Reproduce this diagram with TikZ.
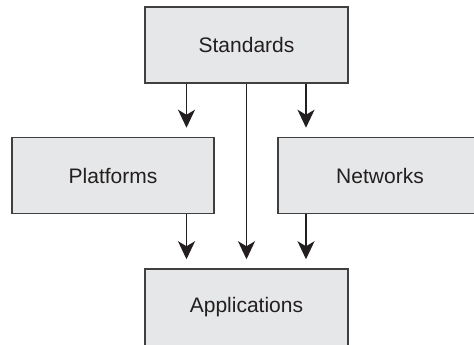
\documentclass[tikz,border=0pt]{standalone}
\usepackage{fontspec}
\setmainfont{Liberation Sans}
\usetikzlibrary{arrows.meta}
\definecolor{boxfill}{HTML}{E6E7E8}
\definecolor{boxline}{HTML}{404040}
\definecolor{ink}{HTML}{231F20}
\begin{document}
\begin{tikzpicture}[x=1pt,y=-1pt,
  box/.style={draw=boxline,fill=boxfill,line width=1.5pt,rectangle,
    minimum width=203pt,minimum height=76pt,inner sep=0pt,
    font=\fontsize{21}{25}\selectfont,text=ink},
  arr/.style={draw=ink,line width=1.5pt,-{Stealth[length=18pt,width=17pt,inset=5pt]},shorten >=9pt}]
\useasboundingbox (0,0) rectangle (474,345);
\clip (0,0) rectangle (474,345);
\node[box] (Standards) at (246.5,45) {Standards};
\node[box,minimum width=202pt] (Platforms) at (113,175.5) {Platforms};
\node[box,minimum width=204pt] (Networks) at (380,175.5) {Networks};
\node[box,minimum height=77pt] (Applications) at (246.5,307.5) {Applications};
\coordinate (xl) at (186.5,0);
\coordinate (xm) at (246.5,0);
\coordinate (xr) at (306,0);
\draw[arr] (Standards.south -| xl) -- (Platforms.north -| xl);
\draw[arr] (Standards.south -| xr) -- (Networks.north -| xr);
\draw[arr] (Standards.south -| xm) -- (Applications.north -| xm);
\draw[arr] (Platforms.south -| xl) -- (Applications.north -| xl);
\draw[arr] (Networks.south -| xr) -- (Applications.north -| xr);
\end{tikzpicture}
\end{document}
